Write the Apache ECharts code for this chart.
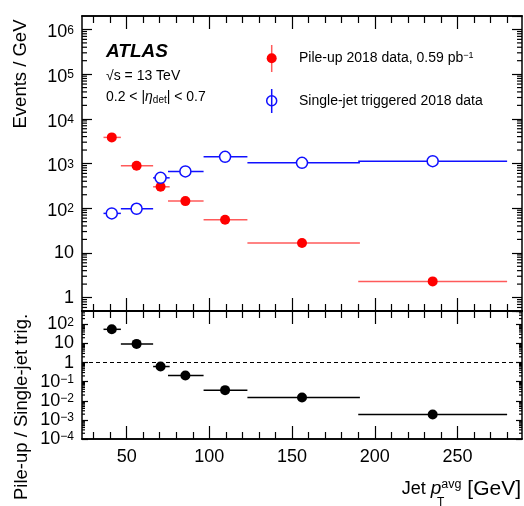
<!DOCTYPE html>
<html><head><meta charset="utf-8">
<script src="https://cdn.jsdelivr.net/npm/echarts@6/dist/echarts.min.js"></script>
<style>html,body{margin:0;padding:0;background:#fff}#c{width:524px;height:506px}</style>
</head><body><div id="c"></div>
<script>
// ---- data ----
const binLow    = [36, 46.5, 66, 75, 96.5, 123, 190];
const binHigh   = [46.5, 66, 76, 96.5, 123, 191, 280];
const binCenter = [41, 56, 70.5, 85.5, 109.5, 156, 235];
const pileUp    = [3840, 890, 301, 144, 55, 16.6, 2.3];
const singleJet = [76.5, 97, 478, 665, 1410, 1037, 1130];
const ratio     = [55, 9.5, 0.62, 0.21, 0.036, 0.015, 0.0019];
const xMajorTicks = [50, 100, 150, 200, 250];
const xMinorTicks = [30,40,60,70,80,90,110,120,130,140,160,170,180,190,210,220,230,240,260,270,280];
const mantissas = [2,3,4,5,6,7,8,9];
const upperDecades = [0.1, 1, 10, 100, 1e3, 1e4, 1e5, 1e6];
const lowerDecades = [1e-4, 1e-3, 1e-2, 0.1, 1, 10, 100];

const X_MIN = 23, X_MAX = 289;
const UP_MIN = 0.5, UP_MAX = 2e6;
const LO_MIN = 1e-4, LO_MAX = 500;
const FF = '"Liberation Sans", Arial, sans-serif';

function minorVals(decades, lo, hi) {
  const out = [];
  decades.forEach(d => mantissas.forEach(m => { const v = m * d; if (v > lo && v < hi) out.push(v); }));
  return out;
}

function decadeLabel(v) {
  const e = Math.round(Math.log10(v));
  if (e === 0) return '{b|1}';
  if (e === 1) return '{b|10}';
  const s = e < 0 ? '\u2212' + (-e) : String(e);
  return '{c|10}{s|' + s + '}';
}
const richUp = {
  b: { fontSize: 18, fontFamily: FF, color: '#000', lineHeight: 20 },
  c: { fontSize: 18, fontFamily: FF, color: '#000', lineHeight: 20, padding: [6, 0, 0, 0] },
  s: { fontSize: 12, fontFamily: FF, color: '#000', lineHeight: 12, padding: [5, 0, 0, 0], verticalAlign: 'top' }
};
const richLo = {
  b: { fontSize: 18, fontFamily: FF, color: '#000', lineHeight: 16 },
  c: { fontSize: 18, fontFamily: FF, color: '#000', lineHeight: 16 },
  s: { fontSize: 12, fontFamily: FF, color: '#000', lineHeight: 10, verticalAlign: 'top' }
};

const LS = { color: '#000', width: 1.5 };
const TS = { color: '#000', width: 1.2 };

function xAx(gridIndex, position, ticks, len, withLabels) {
  return {
    type: 'value', gridIndex, position, min: X_MIN, max: X_MAX,
    axisLine: { show: true, onZero: false, lineStyle: LS },
    axisTick: { show: true, inside: true, length: len, customValues: ticks, lineStyle: TS },
    axisLabel: withLabels ? { show: true, customValues: xMajorTicks, margin: 9, fontSize: 18, fontFamily: FF, color: '#000' } : { show: false },
    splitLine: { show: false }
  };
}
function yAx(gridIndex, position, min, max, len, rich, showMin) {
  return {
    type: 'log', logBase: 10, gridIndex, position, min, max,
    axisLine: { show: true, onZero: false, lineStyle: LS },
    axisTick: { show: true, inside: true, length: len, lineStyle: TS },
    axisLabel: rich ? { show: true, margin: 8, showMinLabel: showMin, showMaxLabel: false, hideOverlap: false,
      formatter: decadeLabel, rich } : { show: false },
    splitLine: { show: false }
  };
}

function hbars(xi, yi, vals, color, width) {
  return {
    type: 'custom', xAxisIndex: xi, yAxisIndex: yi, silent: true, z: 2,
    data: vals.map((v, i) => [binCenter[i], v, binLow[i], binHigh[i]]),
    encode: { x: 0, y: 1 },
    renderItem: (params, api) => {
      const p1 = api.coord([api.value(2), api.value(1)]);
      const p2 = api.coord([api.value(3), api.value(1)]);
      return { type: 'line', shape: { x1: p1[0], y1: p1[1], x2: p2[0], y2: p2[1] },
        style: { stroke: color, lineWidth: width } };
    }
  };
}

function txt(x, y, text, font, extra) {
  return Object.assign({ type: 'text', x, y, silent: true,
    style: Object.assign({ text, font, fill: '#000', align: 'left', verticalAlign: 'middle' }, extra || {}) });
}

const upMinor = minorVals(upperDecades, UP_MIN, UP_MAX);
const loMinor = minorVals(lowerDecades, LO_MIN, LO_MAX);

const chart = echarts.init(document.getElementById('c'), null, { renderer: 'canvas' });
chart.setOption({
  animation: false,
  backgroundColor: '#fff',
  grid: [
    { left: 82, right: 2, top: 16, height: 295 },
    { left: 82, right: 2, top: 311, height: 128 }
  ],
  xAxis: [
    xAx(0, 'bottom', xMajorTicks, 13, false),
    xAx(0, 'bottom', xMinorTicks, 7, false),
    xAx(0, 'top', xMajorTicks, 13, false),
    xAx(0, 'top', xMinorTicks, 7, false),
    xAx(1, 'bottom', xMajorTicks, 13, true),
    xAx(1, 'bottom', xMinorTicks, 7, false),
    xAx(1, 'top', xMajorTicks, 13, false),
    xAx(1, 'top', xMinorTicks, 7, false)
  ],
  yAxis: [
    yAx(0, 'left', UP_MIN, UP_MAX, 10, richUp, false),
    yAx(0, 'right', UP_MIN, UP_MAX, 10, null, false),
    yAx(1, 'left', LO_MIN, LO_MAX, 6, richLo, true),
    yAx(1, 'right', LO_MIN, LO_MAX, 6, null, false)
  ],
  series: [
    hbars(0, 0, pileUp, '#ff5a5a', 1.5),
    hbars(0, 0, singleJet, '#1010ff', 1.5),
    hbars(4, 2, ratio, '#000', 1.5),
    { type: 'scatter', xAxisIndex: 0, yAxisIndex: 0, z: 3, symbol: 'circle', symbolSize: 10,
      itemStyle: { color: '#ff0000', opacity: 1 },
      data: pileUp.map((v, i) => [binCenter[i], v]) },
    { type: 'scatter', xAxisIndex: 0, yAxisIndex: 0, z: 3, symbol: 'circle', symbolSize: 11,
      itemStyle: { color: '#fff', borderColor: '#1010ff', borderWidth: 1.5, opacity: 1 },
      data: singleJet.map((v, i) => [binCenter[i], v]) },
    { type: 'scatter', xAxisIndex: 4, yAxisIndex: 2, z: 3, symbol: 'circle', symbolSize: 10,
      itemStyle: { color: '#000', opacity: 1 },
      data: ratio.map((v, i) => [binCenter[i], v]),
      markLine: { silent: true, symbol: ['none', 'none'], label: { show: false },
        lineStyle: { color: '#000', width: 1.2, type: [4, 3] },
        data: [{ yAxis: 1 }] } }
  ]
});

// minor log ticks (2..9 per decade) on both frame edges, placed through the series' own axes
function minorTickLines(seriesIndex, vals, len) {
  const out = [];
  vals.forEach(v => {
    const l = chart.convertToPixel({ seriesIndex }, [X_MIN, v]);
    const r = chart.convertToPixel({ seriesIndex }, [X_MAX, v]);
    if (!l || !r || !isFinite(l[1])) return;
    out.push({ type: 'line', silent: true, z: 10, shape: { x1: l[0], y1: l[1], x2: l[0] + len, y2: l[1] }, style: { stroke: '#000', lineWidth: 1.2 } });
    out.push({ type: 'line', silent: true, z: 10, shape: { x1: r[0] - len, y1: r[1], x2: r[0], y2: r[1] }, style: { stroke: '#000', lineWidth: 1.2 } });
  });
  return out;
}

const labels = [
  txt(106, 52, 'ATLAS', 'italic bold 19px ' + FF),
  txt(106, 76, '\u221As = 13 TeV', '14px ' + FF),
  { type: 'text', x: 106, y: 97, silent: true,
    style: { text: '0.2 < |{i|\u03b7}{d|det}| < 0.7', font: '14px ' + FF, fill: '#000', verticalAlign: 'middle',
      rich: { i: { fontStyle: 'italic', fontSize: 14, fontFamily: FF, lineHeight: 16 },
              d: { fontSize: 10, fontFamily: FF, verticalAlign: 'bottom', lineHeight: 10 } } } },
  // legend
  { type: 'line', silent: true, shape: { x1: 271.7, y1: 45, x2: 271.7, y2: 72 }, style: { stroke: '#ff5a5a', lineWidth: 1.5 } },
  { type: 'circle', silent: true, shape: { cx: 271.7, cy: 58.3, r: 5 }, style: { fill: '#ff0000' } },
  { type: 'text', x: 299, y: 58, silent: true,
    style: { text: 'Pile-up 2018 data, 0.59 pb{s|\u22121}', font: '14px ' + FF, fill: '#000', verticalAlign: 'middle',
      rich: { s: { fontSize: 9, fontFamily: FF, verticalAlign: 'top', lineHeight: 9 } } } },
  { type: 'line', silent: true, shape: { x1: 271.7, y1: 89, x2: 271.7, y2: 113 }, style: { stroke: '#1010ff', lineWidth: 1.5 } },
  { type: 'circle', silent: true, shape: { cx: 271.7, cy: 100.7, r: 5 }, style: { fill: 'none', stroke: '#1010ff', lineWidth: 1.5 } },
  txt(299, 101, 'Single-jet triggered 2018 data', '14px ' + FF),
  // axis titles
  { type: 'text', x: 21, y: 74, rotation: Math.PI / 2, silent: true,
    style: { text: 'Events / GeV', font: '18.5px ' + FF, fill: '#000', align: 'center', verticalAlign: 'middle' } },
  { type: 'text', x: 22, y: 407, rotation: Math.PI / 2, silent: true,
    style: { text: 'Pile-up / Single-jet trig.', font: '18.5px ' + FF, fill: '#000', align: 'center', verticalAlign: 'middle' } },
  { type: 'text', x: 521, y: 489, silent: true,
    style: { text: '{j|Jet }{i|p}{s|avg}{g| [GeV]}', font: '19.5px ' + FF, fill: '#000', align: 'right', verticalAlign: 'middle',
      rich: { j: { fontSize: 18, fontFamily: FF, lineHeight: 22 },
              i: { fontStyle: 'italic', fontSize: 19, fontFamily: FF, lineHeight: 22 },
              s: { fontSize: 12.5, fontFamily: FF, verticalAlign: 'top', lineHeight: 12 },
              g: { fontSize: 21, fontFamily: FF, lineHeight: 22 } } } },
  txt(437, 503, 'T', '12px ' + FF)
];

chart.setOption({
  graphic: labels.concat(minorTickLines(3, upMinor, 5), minorTickLines(5, loMinor, 3))
});
</script>
</body></html>
